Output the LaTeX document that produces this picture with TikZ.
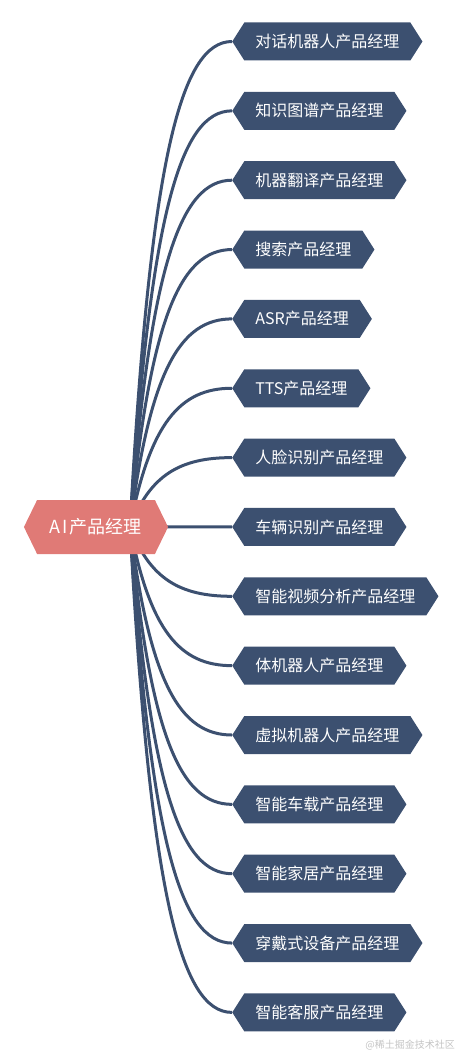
\documentclass[tikz,border=0pt]{standalone}
\usepackage{fontspec}
\newfontfamily\cjk{Noto Sans CJK SC}
\usetikzlibrary{shapes.symbols,backgrounds,calc}
\definecolor{nodeblue}{HTML}{3C5070}
\definecolor{rootred}{HTML}{E07A76}
\definecolor{wmgray}{HTML}{C4C4C4}
\tikzset{
  leafbox/.style={signal, signal to=east and west, signal pointer angle=115,
    fill=nodeblue, text=white, minimum height=38pt, inner xsep=11pt, inner ysep=0pt,
    font=\cjk\fontsize{16}{16}\selectfont, anchor=west},
  rootbox/.style={signal, signal to=east and west, signal pointer angle=128,
    fill=rootred, text=white, minimum height=54pt, inner xsep=13pt, inner ysep=0pt,
    font=\cjk\fontsize{18}{18}\selectfont},
  link/.style={draw=nodeblue, line width=3pt},
  wmark/.style={text=wmgray, font=\cjk\fontsize{10}{10}\selectfont, anchor=east, inner sep=0pt}
}
\begin{document}
\begin{tikzpicture}[x=1pt,y=-1pt]
\useasboundingbox (0,0) rectangle (459,1054);
\node[rootbox] (root) at (96,527) {\makebox[0.55em]{A}\makebox[0.55em]{I}产品经理};
\coordinate (hub) at ($(root.center)+(34,0)$);
\foreach \t [count=\i] in {对话机器人产品经理,知识图谱产品经理,机器翻译产品经理,搜索产品经理,ASR产品经理,TTS产品经理,人脸识别产品经理,车辆识别产品经理,智能视频分析产品经理,体机器人产品经理,虚拟机器人产品经理,智能车载产品经理,智能家居产品经理,穿戴式设备产品经理,智能客服产品经理}{
  \pgfmathsetmacro{\yc}{41.5+69.35*(\i-1)}
  \node[leafbox] (c\i) at (232,\yc) {\t};
}
\begin{pgfonlayer}{background}
\foreach \i in {1,...,15}{
  \pgfmathsetmacro{\yc}{41.5+69.35*(\i-1)}
  \pgfmathsetmacro{\yp}{527+0.75*(\yc-527)}
  \draw[link] (hub) .. controls (150,\yp) and (180,\yc) .. (c\i.west);
}
\end{pgfonlayer}
\node[wmark] (wm) at (455,1045) {@稀土掘金技术社区};
\end{tikzpicture}
\end{document}
